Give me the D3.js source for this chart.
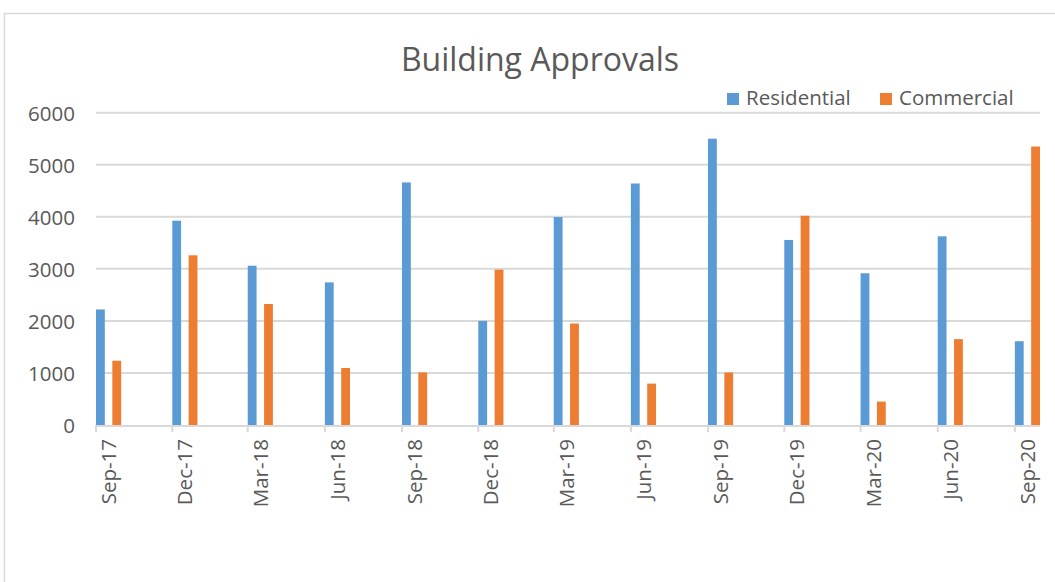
<!DOCTYPE html>
<html>
<head>
<meta charset="utf-8">
<script src="https://cdn.jsdelivr.net/npm/d3@7"></script>
<style>
  body { margin: 0; background: #fff; }
  svg text { font-family: "Open Sans", sans-serif; fill: #595959; }
</style>
</head>
<body>
<div id="chart"></div>
<script>
// quarterly building approvals
var categories = ['Sep-17', 'Dec-17', 'Mar-18', 'Jun-18', 'Sep-18', 'Dec-18', 'Mar-19',
  'Jun-19', 'Sep-19', 'Dec-19', 'Mar-20', 'Jun-20', 'Sep-20'];
var residential = [2220, 3925, 3060, 2740, 4660, 2000, 3995, 4640, 5500, 3555, 2915, 3625, 1610];
var commercial = [1235, 3260, 2325, 1095, 1010, 2985, 1950, 795, 1010, 4020, 450, 1650, 5350];
var seriesNames = ['Residential', 'Commercial'];
var yTicks = [0, 1000, 2000, 3000, 4000, 5000, 6000];

var fillcolors = ['#5B9BD5', '#ED7D31'];
var gridColor = '#D9D9D9';

var width = 1055, height = 582;
// note: 'top' is taken by window.top, so plot edges get their own names
var plotLeft = 96, plotRight = 1040, plotTop = 112.7, plotBottom = 425;

// first of the month for each quarter label
var dates = categories.map(function(c, i) {
  return new Date(Date.UTC(2017, 8 + 3 * i, 1));
});
var endDate = new Date(Date.UTC(2020, 9, 1));

var svg = d3.select('#chart').append('svg')
  .attr('width', width)
  .attr('height', height);

// chart area border (runs off the right and bottom edge)
svg.append('rect')
  .attr('x', 4.5).attr('y', 13.5)
  .attr('width', 1200).attr('height', 700)
  .style('fill', 'none')
  .style('stroke', gridColor)
  .style('stroke-width', 1.5);

var x = d3.scaleUtc().domain([dates[0], endDate]).range([plotLeft, plotRight]);
var y = d3.scaleLinear().domain([0, 6000]).range([plotBottom, plotTop]);

var monthWidth = x(new Date(Date.UTC(2017, 9, 1))) - x(dates[0]);
var xInner = d3.scaleBand().domain(seriesNames).range([0, monthWidth])
  .paddingInner(0.46).paddingOuter(0);

// gridlines
svg.append('g')
  .selectAll('line')
  .data(yTicks.filter(function(t) { return t > 0; }))
  .join('line')
  .attr('x1', plotLeft).attr('x2', plotRight)
  .attr('y1', function(d) { return y(d); })
  .attr('y2', function(d) { return y(d); })
  .style('stroke', gridColor)
  .style('stroke-width', 2);

// y axis labels
var yAxis = svg.append('g')
  .attr('transform', 'translate(' + (plotLeft - 21) + ',0)')
  .call(d3.axisLeft(y).tickValues(yTicks).tickFormat(d3.format('d'))
    .tickSize(0).tickPadding(0));
yAxis.select('.domain').remove();
yAxis.selectAll('text')
  .style('font-size', '20.5px')
  .style('font-family', '"Open Sans", sans-serif')
  .attr('dy', '0.36em')
  .style('fill', '#595959');

// bars
var seriesData = [residential, commercial];
seriesData.forEach(function(values, s) {
  svg.append('g')
    .selectAll('rect')
    .data(values)
    .join('rect')
    .attr('x', function(d, i) { return x(dates[i]) + xInner(seriesNames[s]); })
    .attr('y', function(d) { return y(d); })
    .attr('width', xInner.bandwidth())
    .attr('height', function(d) { return y(0) - y(d); })
    .style('fill', fillcolors[s]);
});

// x axis line and ticks
svg.append('line')
  .attr('x1', plotLeft).attr('x2', plotRight)
  .attr('y1', plotBottom + 1).attr('y2', plotBottom + 1)
  .style('stroke', gridColor)
  .style('stroke-width', 2);

svg.append('g')
  .selectAll('line')
  .data(dates)
  .join('line')
  .attr('x1', function(d) { return x(d); })
  .attr('x2', function(d) { return x(d); })
  .attr('y1', plotBottom)
  .attr('y2', plotBottom + 7)
  .style('stroke', gridColor)
  .style('stroke-width', 2);

svg.append('g')
  .selectAll('text')
  .data(categories)
  .join('text')
  .attr('transform', function(d, i) {
    return 'translate(' + (x(dates[i]) + monthWidth / 2) + ',439) rotate(-90)';
  })
  .attr('text-anchor', 'end')
  .attr('dy', '0.36em')
  .style('font-size', '20.5px')
  .text(function(d) { return d; });

// title
svg.append('text')
  .attr('x', 540)
  .attr('y', 71)
  .attr('text-anchor', 'middle')
  .style('font-size', '32px')
  .text('Building Approvals');

// legend
var legendX = [727, 880];
var legend = svg.append('g')
  .selectAll('g')
  .data(seriesNames)
  .join('g')
  .attr('transform', function(d, i) { return 'translate(' + legendX[i] + ',93)'; });
legend.append('rect')
  .attr('width', 12).attr('height', 12)
  .style('fill', function(d, i) { return fillcolors[i]; });
legend.append('text')
  .attr('x', 19)
  .attr('y', 12)
  .style('font-size', '20.5px')
  .text(function(d) { return d; });
</script>
</body>
</html>
